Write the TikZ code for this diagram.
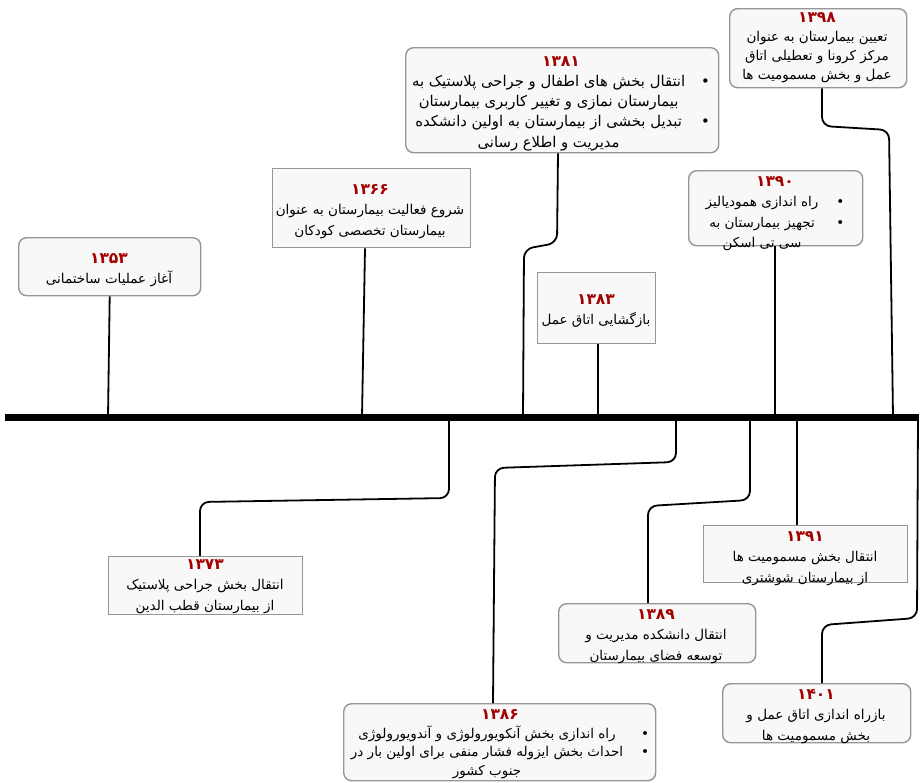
\documentclass[tikz,border=0pt]{standalone}
\usepackage{fontspec}
\TeXXeTstate=1
\newfontfamily\fa[Script=Arabic]{DejaVu Sans}
\newcommand\rl[1]{\beginR #1\endR}
\newcommand\yr[1]{{\fontsize{15.5}{20.5}\selectfont\bfseries\color{yearred}#1}}
\newcommand\bul{\textbullet}
\definecolor{boxgray}{RGB}{150,150,150}
\definecolor{boxfill}{RGB}{248,248,248}
\definecolor{yearred}{RGB}{165,0,0}
\tikzset{
  box/.style={draw=boxgray, line width=1.4pt, fill=boxfill, inner sep=0pt},
  rbox/.style={box, rounded corners=8pt},
  txt/.style={font=\fa\fontsize{13.5}{20.5}\selectfont, align=center, inner sep=0pt, anchor=north},
  bigtxt/.style={txt, font=\fa\fontsize{14.8}{20.3}\selectfont},
  tighttxt/.style={txt, font=\fa\fontsize{13.5}{18.8}\selectfont},
  conn/.style={line width=1.8pt, black, rounded corners=9pt},
  axis/.style={line width=7pt, black}
}
\begin{document}
\begin{tikzpicture}[x=1pt,y=-1pt]
\useasboundingbox (0,0) rectangle (921,782);

% axis
\coordinate (axL) at (5,417);
\coordinate (axR) at (919,417);

% boxes
\node[rbox, minimum width=182pt, minimum height=58pt, anchor=north west] (b1353) at (18,237) {};
\node[box,  minimum width=198pt, minimum height=79pt, anchor=north west] (b1366) at (272,168) {};
\node[rbox, minimum width=313pt, minimum height=105pt, anchor=north west] (b1381) at (405,47) {};
\node[rbox, minimum width=177pt, minimum height=79pt, anchor=north west] (b1398) at (729,8) {};
\node[box,  minimum width=118pt, minimum height=71pt, anchor=north west] (b1383) at (537,272) {};
\node[rbox, minimum width=174pt, minimum height=75pt, anchor=north west] (b1390) at (688,170) {};
\node[box,  minimum width=194pt, minimum height=58pt, anchor=north west] (b1373) at (108,556) {};
\node[rbox, minimum width=197pt, minimum height=59pt, anchor=north west] (b1389) at (558,603) {};
\node[box,  minimum width=204pt, minimum height=57pt, anchor=north west] (b1391) at (703,525) {};
\node[rbox, minimum width=188pt, minimum height=59pt, anchor=north west] (b1401) at (722,683) {};
\node[rbox, minimum width=312pt, minimum height=77pt, anchor=north west] (b1386) at (343,703) {};

% texts
\node[txt] (t1353) at (109,253) {\yr{۱۳۵۳}\\\rl{آغاز عملیات ساختمانی}};
\node[txt] (t1366) at (370,184) {\yr{۱۳۶۶}\\\rl{شروع فعالیت بیمارستان به عنوان}\\\rl{بیمارستان تخصصی کودکان}};
\node[bigtxt] (t1381) at (561,56) {\yr{۱۳۸۱}\\
  \begin{tabular}[t]{@{}c@{\hspace{16pt}}c@{}}
  \rl{انتقال بخش های اطفال و جراحی پلاستیک به} & \bul\\
  \rl{بیمارستان نمازی و تغییر کاربری بیمارستان} & \\
  \rl{تبدیل بخشی از بیمارستان به اولین دانشکده} & \bul\\
  \rl{مدیریت و اطلاع رسانی} & \\
  \end{tabular}};
\node[tighttxt] (t1398) at (817,12) {\yr{۱۳۹۸}\\[0.8pt]\rl{تعیین بیمارستان به عنوان}\\\rl{مرکز کرونا و تعطیلی اتاق}\\\rl{عمل و بخش مسمومیت ها}};
\node[txt] (t1383) at (596,294) {\yr{۱۳۸۳}\\\rl{بازگشایی اتاق عمل}};
\node[txt] (t1390) at (775,176) {\yr{۱۳۹۰}\\
  \begin{tabular}[t]{@{}c@{\hspace{18pt}}c@{}}
  \rl{راه اندازی همودیالیز} & \bul\\
  \rl{تجهیز بیمارستان به} & \bul\\
  \rl{سی تی اسکن} & \\
  \end{tabular}};
\node[txt] (t1373) at (205,559) {\yr{۱۳۷۳}\\\rl{انتقال بخش جراحی پلاستیک}\\\rl{از بیمارستان قطب الدین}};
\node[txt] (t1389) at (656,609) {\yr{۱۳۸۹}\\\rl{انتقال دانشکده مدیریت و}\\\rl{توسعه فضای بیمارستان}};
\node[txt] (t1391) at (805,531) {\yr{۱۳۹۱}\\\rl{انتقال بخش مسمومیت ها}\\\rl{از بیمارستان شوشتری}};
\node[txt] (t1401) at (816,689) {\yr{۱۴۰۱}\\\rl{بازراه اندازی اتاق عمل و}\\\rl{بخش مسمومیت ها}};
\node[tighttxt] (t1386) at (500,709) {\yr{۱۳۸۶}\\
  \begin{tabular}[t]{@{}c@{\hspace{18pt}}c@{}}
  \rl{راه اندازی بخش آنکویورولوژی و آندویورولوژی} & \bul\\
  \rl{احداث بخش ایزوله فشار منفی برای اولین بار در} & \bul\\
  \rl{جنوب کشور} & \\
  \end{tabular}};

% axis points
\coordinate (a1353) at (108,417);
\coordinate (a1366) at (362,417);
\coordinate (a1381) at (523,417);
\coordinate (a1383) at (598,417);
\coordinate (a1390) at (775,417);
\coordinate (a1398) at (893,417);
\coordinate (a1373) at (449,417);
\coordinate (a1386) at (676,417);
\coordinate (a1389) at (750,417);
\coordinate (a1391) at (797,417);
\coordinate (a1401) at (918,417);

% connectors above
\draw[conn] (b1353.south) -- (a1353);
\draw[conn] (b1366.south -| 365,0) -- (a1366);
\draw[conn] (b1381.south -| 558,0) -- (557,243) -- (524,249) -- (a1381);
\draw[conn] (b1383.south -| 598,0) -- (a1383);
\draw[conn] (b1390.south -| 775,0) -- (a1390);
\draw[conn] (b1398.south -| 822,0) -- (822,126) -- (889,130) -- (a1398);
% connectors below
\draw[conn] (a1373) -- (449,498) -- (200,502) -- (b1373.north -| 200,0);
\draw[conn] (a1386) -- (676,462) -- (495,468) -- (b1386.north -| 493,0);
\draw[conn] (a1389) -- (750,500) -- (648,506) -- (b1389.north -| 648,0);
\draw[conn] (a1391) -- (b1391.north -| 797,0);
\draw[conn] (a1401) -- (917,618) -- (822,625) -- (b1401.north -| 822,0);

\draw[axis] (axL) -- (axR);
\end{tikzpicture}
\end{document}
